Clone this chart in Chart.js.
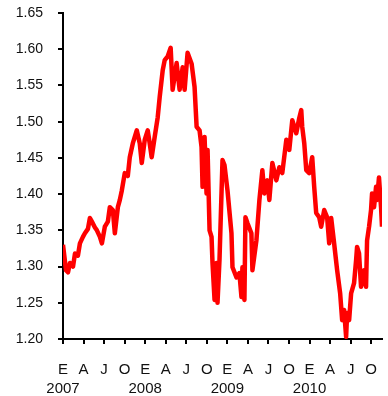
<!DOCTYPE html>
<html>
<head>
<meta charset="utf-8">
<script src="https://cdn.jsdelivr.net/npm/chart.js@4.4.1/dist/chart.umd.min.js"></script>
<style>
  html, body { margin: 0; padding: 0; background: #fff; }
  #wrap { width: 388px; height: 396px; position: relative; }
</style>
</head>
<body>
<div id="wrap"><canvas id="c"></canvas></div>
<script>
// months elapsed since January 2007
const months = [
  0.00, 0.44, 0.73, 1.02, 1.46, 1.75, 2.18, 2.47, 2.91, 3.20, 3.64, 3.93, 4.22, 4.66, 4.95,
  5.39, 5.68, 6.11, 6.55, 6.84, 7.28, 7.57, 8.01, 8.30, 8.59, 9.02, 9.46, 9.75, 10.19, 10.77,
  11.21, 11.50, 11.94, 12.37, 12.66, 12.95, 13.39, 13.83, 14.12, 14.56, 14.85, 15.28, 15.72,
  16.01, 16.59, 17.03, 17.47, 17.76, 18.19, 18.78, 19.21, 19.51, 19.94, 20.23, 20.38, 20.67,
  20.96, 21.11, 21.40, 21.69, 21.83, 22.13, 22.42, 22.56, 22.85, 23.29, 23.58, 24.02, 24.60,
  24.75, 25.33, 25.76, 26.06, 26.20, 26.49, 26.64, 26.93, 27.51, 27.66, 28.24, 28.68, 29.11,
  29.40, 29.84, 30.13, 30.57, 31.15, 31.59, 32.02, 32.61, 33.04, 33.48, 34.06, 34.50, 34.79,
  34.93, 35.23, 35.52, 35.95, 36.39, 36.68, 36.97, 37.41, 37.70, 38.14, 38.57, 38.87, 39.16,
  39.59, 40.03, 40.47, 40.76, 41.05, 41.34, 41.49, 41.78, 42.07, 42.50, 42.80, 42.94, 43.23,
  43.52, 43.96, 44.25, 44.40, 44.69, 44.98, 45.13, 45.42, 45.71, 45.85, 46.14, 46.44, 46.58
];
// EUR/USD
const rates = [
  1.330, 1.295, 1.292, 1.305, 1.300, 1.318, 1.315, 1.332, 1.341, 1.346, 1.352, 1.367, 1.362, 1.354, 1.350,
  1.341, 1.332, 1.355, 1.362, 1.382, 1.378, 1.346, 1.382, 1.392, 1.405, 1.429, 1.425, 1.451, 1.470, 1.488,
  1.470, 1.443, 1.475, 1.488, 1.470, 1.451, 1.479, 1.506, 1.534, 1.571, 1.585, 1.590, 1.602,
  1.544, 1.581, 1.544, 1.575, 1.544, 1.595, 1.580, 1.548, 1.493, 1.488, 1.465, 1.410, 1.479,
  1.401, 1.461, 1.350, 1.341, 1.305, 1.254, 1.305, 1.250, 1.309, 1.447, 1.440, 1.405, 1.346,
  1.299, 1.285, 1.291, 1.258, 1.299, 1.254, 1.368, 1.360, 1.346, 1.295, 1.336, 1.392, 1.433,
  1.401, 1.419, 1.392, 1.443, 1.419, 1.437, 1.429, 1.475, 1.461, 1.502, 1.484, 1.505, 1.516,
  1.493, 1.470, 1.433, 1.429, 1.451, 1.410, 1.374, 1.368, 1.355, 1.378, 1.368, 1.332, 1.367,
  1.332, 1.295, 1.263, 1.226, 1.240, 1.203, 1.236, 1.226, 1.263, 1.277, 1.309, 1.327, 1.318,
  1.272, 1.295, 1.272, 1.336, 1.355, 1.378, 1.401, 1.382, 1.410, 1.392, 1.423, 1.382, 1.355
];
const quarterLetters = ['E', 'A', 'J', 'O'];
const years = ['2007', '2008', '2009', '2010'];
const yTicks = [1.20, 1.25, 1.30, 1.35, 1.40, 1.45, 1.50, 1.55, 1.60, 1.65];
const xMax = 46.58;

const points = months.map((m, i) => ({ x: m, y: rates[i] }));
const quarterTicks = [];
for (let q = 0; q < years.length * 4; q++) quarterTicks.push(q * 3);

const axisColor = '#000';
const fontFamily = '"Liberation Sans", Arial, sans-serif';

new Chart(document.getElementById('c'), {
  type: 'line',
  data: {
    datasets: [{
      data: points,
      borderColor: '#ff0000',
      borderWidth: 4.5,
      pointRadius: 0,
      tension: 0,
      borderJoinStyle: 'round',
      fill: false
    }]
  },
  options: {
    responsive: true,
    maintainAspectRatio: false,
    animation: false,
    layout: { padding: { top: 13, right: 6, left: 0, bottom: 0 } },
    plugins: { legend: { display: false }, tooltip: { enabled: false } },
    scales: {
      x: {
        type: 'linear',
        min: 0,
        max: xMax,
        afterBuildTicks(scale) {
          scale.ticks = quarterTicks.map(v => ({ value: v }));
        },
        afterFit(scale) {
          scale.height = 57;
          scale.paddingLeft = 0;
          scale.paddingRight = 0;
        },
        grid: { drawOnChartArea: false, drawTicks: true, tickLength: 5, color: axisColor, lineWidth: 2 },
        border: { display: true, color: axisColor, width: 2 },
        ticks: {
          autoSkip: false,
          maxRotation: 0,
          padding: 16,
          color: '#111',
          font: { family: fontFamily, size: 15, lineHeight: 1.3 },
          callback(v) {
            const q = Math.round(v / 3);
            const letter = quarterLetters[q % 4];
            return q % 4 === 0 ? [letter, years[q / 4]] : letter;
          }
        }
      },
      y: {
        min: 1.2,
        max: 1.65,
        afterBuildTicks(scale) {
          scale.ticks = yTicks.map(v => ({ value: v }));
        },
        afterFit(scale) {
          scale.width = 63;
          scale.paddingTop = 0;
          scale.paddingBottom = 0;
        },
        grid: { drawOnChartArea: false, drawTicks: true, tickLength: 5, color: axisColor, lineWidth: 2 },
        border: { display: true, color: axisColor, width: 2 },
        ticks: {
          padding: 15,
          color: '#111',
          font: { family: fontFamily, size: 14 },
          callback: v => v.toFixed(2)
        }
      }
    }
  }
});
</script>
</body>
</html>
